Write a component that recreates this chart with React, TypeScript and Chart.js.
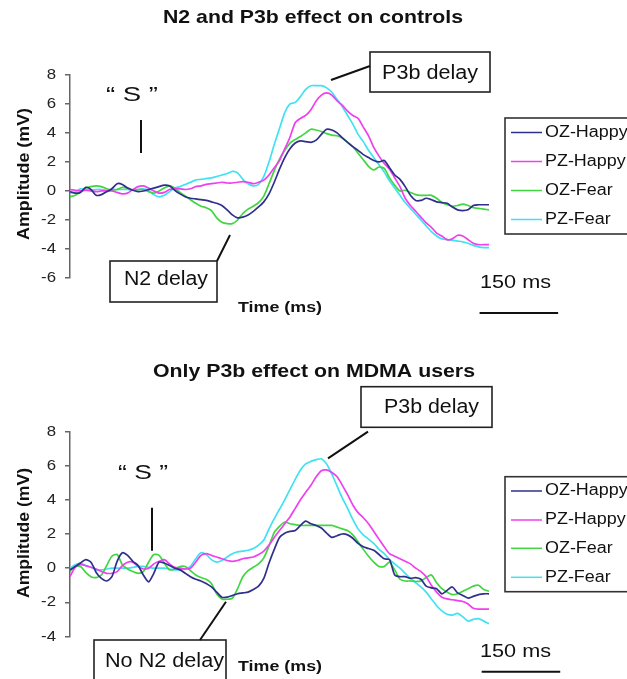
import React, { useEffect, useRef } from 'react';
import { Chart, registerables } from 'chart.js';

Chart.register(...registerables);

const FONT = '"Liberation Sans", Arial, Helvetica, sans-serif';

// ---------- data ----------
const TIMES_MS = [
  0, 10, 20, 30, 40, 50, 60, 70, 80, 90,
  100, 110, 120, 130, 140, 150, 160, 170, 180, 190,
  200, 210, 220, 230, 240, 250, 260, 270, 280, 290,
  300, 310, 320, 330, 340, 350, 360, 370, 380, 390,
  400, 410, 420, 430, 440, 450, 460, 470, 480, 490,
  500, 510, 520, 530, 540, 550, 560, 570, 580, 590,
  600, 610, 620, 630, 640, 650, 660, 670, 680, 690,
  700, 710, 720, 730, 740, 750, 760, 770, 780, 790,
  800,
];

const SERIES_LABELS = ['OZ-Happy', 'PZ-Happy', 'OZ-Fear', 'PZ-Fear'];
const SERIES_COLORS = ['#2f2f8c', '#ee40ee', '#40d640', '#40e2f2'];

// Controls
const CTRL_OZ_HAPPY = [
  -0.05, -0.15, -0.1, 0.25, 0.1, -0.3, -0.25, -0.05, 0.15, 0.5,
  0.45, 0.2, 0.05, -0.05, 0.0, 0.1, 0.2, 0.3, 0.4, 0.35,
  0.05, -0.2, -0.4, -0.5, -0.55, -0.6, -0.65, -0.75, -0.85, -1.0,
  -1.3, -1.65, -1.85, -1.8, -1.65, -1.4, -1.1, -0.75, -0.2, 0.6,
  1.5, 2.3, 2.9, 3.3, 3.45, 3.4, 3.35, 3.5, 3.9, 4.25,
  4.2, 4.0, 3.65, 3.35, 3.05, 2.8, 2.5, 2.3, 2.1, 2.0,
  2.1, 1.6, 1.1, 0.8, 0.3, -0.3, -0.65, -0.65, -0.5, -0.6,
  -0.75, -0.8, -0.85, -1.1, -1.3, -1.35, -1.3, -1.0, -0.95, -0.95,
  -0.95,
];
const CTRL_PZ_HAPPY = [
  0.1, 0.05, 0.0, 0.05, 0.0, -0.05, 0.0, 0.0, 0.0, -0.1,
  -0.2, -0.15, 0.1, 0.3, 0.35, 0.2, 0.0, -0.15, -0.1, 0.1,
  0.15, 0.15, 0.1, 0.15, 0.3, 0.35, 0.45, 0.5, 0.55, 0.6,
  0.55, 0.55, 0.6, 0.65, 0.6, 0.5, 0.6, 0.75, 1.1, 1.6,
  2.1, 2.9, 3.7, 4.7, 5.0, 5.2, 5.6, 6.2, 6.6, 6.75,
  6.6, 6.2, 5.9, 5.5, 5.2, 5.0, 4.4, 3.8, 3.0, 2.4,
  1.9, 1.5, 0.9, 0.3, -0.5, -1.0, -1.4, -1.8, -2.2, -2.5,
  -2.9, -3.1, -3.35, -3.3, -3.05, -3.1, -3.35, -3.6, -3.7, -3.7,
  -3.7,
];
const CTRL_OZ_FEAR = [
  -0.4, -0.3, -0.05, 0.2, 0.3, 0.35, 0.3, 0.15, 0.05, 0.1,
  0.25, 0.2, 0.05, 0.1, 0.1, -0.05, -0.15, 0.0, 0.2, 0.35,
  0.2, -0.1, -0.35, -0.6, -0.85, -1.05, -1.15, -1.35, -1.85, -2.15,
  -2.25, -2.25, -2.0, -1.55, -1.25, -1.05, -0.8, -0.35, 0.5, 1.4,
  2.2, 2.8, 3.3, 3.55, 3.75, 4.0, 4.25, 4.2, 4.1, 3.95,
  3.85, 3.8, 3.65, 3.35, 3.05, 2.6, 2.15, 1.7, 1.45, 1.65,
  1.55, 0.9, 0.4, 0.0, 0.05, -0.1, -0.25, -0.3, -0.3, -0.3,
  -0.5, -0.8, -0.95, -1.05, -1.0, -0.9, -1.0, -1.15, -1.2, -1.25,
  -1.3,
];
const CTRL_PZ_FEAR = [
  -0.15, -0.05, 0.15, 0.1, 0.05, 0.1, 0.1, 0.05, 0.1, 0.1,
  0.1, 0.1, 0.05, 0.1, 0.15, 0.05, -0.25, -0.4, -0.3, -0.05,
  0.2, 0.3, 0.45, 0.6, 0.75, 0.8, 0.85, 0.9, 1.0, 1.1,
  1.2, 1.35, 1.25, 0.8, 0.5, 0.35, 0.45, 1.0, 2.0, 3.2,
  4.3, 5.4, 6.0, 6.1, 6.5, 7.0, 7.25, 7.25, 7.25, 7.1,
  6.8, 6.3, 5.8, 5.2, 4.6, 3.9, 3.4, 2.8, 2.3, 1.8,
  1.3, 0.7, 0.2, -0.3, -0.8, -1.2, -1.6, -2.0, -2.4, -2.8,
  -3.1, -3.3, -3.35, -3.4, -3.45, -3.5, -3.6, -3.75, -3.85, -3.9,
  -3.9,
];

// MDMA users
const MDMA_OZ_HAPPY = [
  -0.1, 0.1, 0.3, 0.5, 0.35, -0.25, -0.6, -0.75, -0.5, 0.4,
  0.9, 0.75, 0.4, 0.15, -0.4, -0.8, -0.3, 0.35, 0.3, 0.15,
  0.0, -0.1, -0.3, -0.5, -0.65, -0.75, -0.9, -1.1, -1.4, -1.7,
  -1.7, -1.6, -1.5, -1.45, -1.4, -1.25, -1.05, -0.6, 0.3, 1.1,
  1.8, 2.05, 2.15, 2.2, 2.5, 2.75, 2.6, 2.5, 2.35, 2.05,
  1.8, 1.9, 2.0, 1.95, 1.75, 1.45, 1.25, 1.15, 1.05, 0.8,
  0.55, 0.5, -0.4, -0.5, -0.5, -0.6, -0.55, -0.65, -1.05, -1.15,
  -1.2, -1.5, -1.3, -1.1, -1.45, -1.6, -1.75, -1.65, -1.55, -1.5,
  -1.5,
];
const MDMA_PZ_HAPPY = [
  -0.5, 0.05, 0.2, 0.15, 0.05, -0.05, -0.2, -0.3, -0.3, -0.2,
  0.15, 0.35, 0.35, 0.1, -0.05, 0.0, 0.25, 0.4, 0.5, 0.25,
  0.05, 0.0, -0.05, 0.0, 0.35, 0.75, 0.85, 0.75, 0.65, 0.55,
  0.45, 0.4, 0.45, 0.55, 0.6, 0.65, 0.8, 1.0, 1.35, 1.8,
  2.2, 2.6, 3.0, 3.5, 4.0, 4.45, 4.85, 5.35, 5.7, 5.75,
  5.6, 5.35, 4.85, 4.3, 3.7, 3.25, 2.95, 2.6, 2.15, 1.7,
  1.25, 0.85, 0.7, 0.55, 0.4, 0.25, 0.0, -0.2, -0.5, -1.0,
  -1.4, -1.7, -1.8, -1.85, -1.9, -1.95, -2.1, -2.35, -2.4, -2.4,
  -2.4,
];
const MDMA_OZ_FEAR = [
  -0.2, 0.1, 0.1, -0.25, -0.5, -0.55, -0.4, 0.15, 0.7, 0.8,
  0.2, -0.05, -0.2, -0.3, -0.2, 0.35, 0.8, 0.75, 0.3, -0.1,
  -0.05, 0.1, 0.1, -0.15, -0.4, -0.55, -0.65, -0.9, -1.5, -1.8,
  -1.82, -1.75, -1.2, -0.5, -0.15, 0.05, 0.25, 0.6, 1.3, 2.1,
  2.45, 2.7, 2.6, 2.55, 2.5, 2.5, 2.5, 2.5, 2.5, 2.5,
  2.5, 2.4, 2.3, 2.2, 1.95, 1.55, 1.1, 0.7, 0.35, 0.1,
  0.1, 0.35, -0.1, -0.65, -0.75, -0.75, -0.78, -0.75, -0.55, -0.4,
  -0.85, -1.2, -1.4, -1.55, -1.5, -1.35, -1.2, -1.05, -1.0, -1.25,
  -1.35,
];
const MDMA_PZ_FEAR = [
  0.0, 0.2, 0.3, 0.15, 0.05, -0.1, -0.1, -0.05, 0.0, 0.0,
  0.0, 0.0, 0.05, 0.1, 0.1, 0.05, 0.0, 0.0, 0.0, -0.05,
  -0.1, -0.1, -0.05, 0.1, 0.55, 0.9, 0.8, 0.5, 0.35, 0.45,
  0.65, 0.85, 0.95, 1.0, 1.05, 1.15, 1.35, 1.65, 2.3, 2.9,
  3.45, 4.0, 4.6, 5.2, 5.75, 6.1, 6.25, 6.35, 6.4, 6.1,
  5.5, 4.8, 4.1, 3.5, 2.85, 2.3, 1.95, 1.7, 1.45, 1.1,
  0.85, 0.5, 0.25, 0.0, -0.3, -0.6, -0.85, -1.1, -1.4, -1.8,
  -2.2, -2.5, -2.7, -2.75, -2.65, -2.85, -3.1, -3.0, -2.95, -3.1,
  -3.25,
];

const CTRL_Y_TICKS = [-6, -4, -2, 0, 2, 4, 6, 8];
const MDMA_Y_TICKS = [-4, -2, 0, 2, 4, 6, 8];

const TITLE_CTRL = 'N2 and P3b effect on controls';
const TITLE_MDMA = 'Only P3b effect on MDMA users';
const Y_TITLE = 'Amplitude (mV)';
const X_TITLE = 'Time (ms)';
const STIM_LABEL = '\u201C S \u201D';
const P3B_LABEL = 'P3b delay';
const N2_CTRL_LABEL = 'N2 delay';
const N2_MDMA_LABEL = 'No N2 delay';
const SCALE_BAR_MS = 150;
const SCALE_BAR_LABEL = '150 ms';

// ---------- drawing helpers ----------
type Align = 'left' | 'center' | 'right';

function drawText(
  ctx: CanvasRenderingContext2D,
  text: string,
  x: number,
  y: number,
  size: number,
  o: { bold?: boolean; width?: number; sx?: number; align?: Align; base?: CanvasTextBaseline; color?: string; rotate?: number } = {}
) {
  ctx.save();
  ctx.font = `${o.bold ? 'bold ' : ''}${size}px ${FONT}`;
  const nat = ctx.measureText(text).width;
  const sx = o.width ? o.width / nat : o.sx ?? 1.18;
  ctx.translate(x, y);
  if (o.rotate) ctx.rotate(o.rotate);
  ctx.scale(sx, 1);
  ctx.textAlign = o.align ?? 'left';
  ctx.textBaseline = o.base ?? 'alphabetic';
  ctx.fillStyle = o.color ?? '#111';
  ctx.fillText(text, 0, 0);
  ctx.restore();
}

function line(ctx: CanvasRenderingContext2D, x1: number, y1: number, x2: number, y2: number, w = 2, color = '#111') {
  ctx.save();
  ctx.strokeStyle = color;
  ctx.lineWidth = w;
  ctx.beginPath();
  ctx.moveTo(x1, y1);
  ctx.lineTo(x2, y2);
  ctx.stroke();
  ctx.restore();
}

function rect(ctx: CanvasRenderingContext2D, x: number, y: number, w: number, h: number, lw = 1.6, color = '#222') {
  ctx.save();
  ctx.strokeStyle = color;
  ctx.lineWidth = lw;
  ctx.strokeRect(x, y, w, h);
  ctx.restore();
}

interface Panel {
  height: number;
  padTop: number;
  padBottom: number;
  yMin: number;
  yMax: number;
  yTicks: number[];
  series: number[][];
  title: string;
  titleX: number; titleW: number; titleY: number;
  yTitleY: number; yTitleW: number;
  stimX: number; stimW: number; stimY: number;
  stimLineX: number; stimLineY1: number; stimLineY2: number;
  p3bBox: number[]; p3bTextX: number; p3bTextW: number; p3bTextY: number; p3bLeader: number[];
  n2Label: string; n2Box: number[]; n2TextX: number; n2TextW: number; n2TextY: number; n2Leader: number[];
  timeX: number; timeW: number; timeY: number;
  legendBox: number[]; legendRows: number[];
  barTextX: number; barTextW: number; barTextY: number; barStart: number; barY: number;
}

const PANEL_CTRL: Panel = {
  height: 340, padTop: 74.8, padBottom: 61.9,
  yMin: -6, yMax: 8, yTicks: CTRL_Y_TICKS,
  series: [CTRL_OZ_HAPPY, CTRL_PZ_HAPPY, CTRL_OZ_FEAR, CTRL_PZ_FEAR],
  title: TITLE_CTRL, titleX: 163, titleW: 300, titleY: 23,
  yTitleY: 174, yTitleW: 132,
  stimX: 106, stimW: 52, stimY: 101,
  stimLineX: 141, stimLineY1: 120, stimLineY2: 153,
  p3bBox: [370, 52, 120, 40], p3bTextX: 382, p3bTextW: 96, p3bTextY: 79, p3bLeader: [331, 80, 370, 66],
  n2Label: N2_CTRL_LABEL, n2Box: [110, 261, 107, 41], n2TextX: 124, n2TextW: 84, n2TextY: 285, n2Leader: [217, 261, 230, 235],
  timeX: 238, timeW: 84, timeY: 312,
  legendBox: [505, 118, 140, 116], legendRows: [132.5, 161.5, 190.5, 219.5],
  barTextX: 480, barTextW: 71, barTextY: 288, barStart: 782, barY: 313,
};

const PANEL_MDMA: Panel = {
  height: 339, padTop: 91.5, padBottom: 42.5,
  yMin: -4, yMax: 8, yTicks: MDMA_Y_TICKS,
  series: [MDMA_OZ_HAPPY, MDMA_PZ_HAPPY, MDMA_OZ_FEAR, MDMA_PZ_FEAR],
  title: TITLE_MDMA, titleX: 153, titleW: 322, titleY: 37,
  yTitleY: 193, yTitleW: 130,
  stimX: 118, stimW: 50, stimY: 139,
  stimLineX: 152, stimLineY1: 167.7, stimLineY2: 210.7,
  p3bBox: [361, 46.7, 131, 40.6], p3bTextX: 384, p3bTextW: 95, p3bTextY: 73, p3bLeader: [328, 118.3, 368, 91.7],
  n2Label: N2_MDMA_LABEL, n2Box: [94, 300, 132, 60], n2TextX: 105, n2TextW: 119, n2TextY: 327, n2Leader: [200, 300, 226, 261.7],
  timeX: 238, timeW: 84, timeY: 331,
  legendBox: [505, 136.7, 140, 115], legendRows: [151, 180, 208.3, 237.3],
  barTextX: 480, barTextW: 71, barTextY: 317, barStart: 786, barY: 331.7,
};

function makeDecor(p: Panel) {
  return {
    id: 'decor',
    afterDraw(chart: any) {
      const ctx: CanvasRenderingContext2D = chart.ctx;
      const ys = chart.scales.y;
      const xs = chart.scales.x;

      // title
      drawText(ctx, p.title, p.titleX, p.titleY, 19, { bold: true, width: p.titleW });
      // y tick labels
      for (const v of p.yTicks) {
        drawText(ctx, String(v), 56, ys.getPixelForValue(v), 15, { sx: 1.12, align: 'right', base: 'middle', color: '#222' });
      }
      // y title
      drawText(ctx, Y_TITLE, 25, p.yTitleY, 16, { bold: true, width: p.yTitleW, align: 'center', base: 'middle', rotate: -Math.PI / 2 });
      // x title
      drawText(ctx, X_TITLE, p.timeX, p.timeY, 15, { bold: true, width: p.timeW });

      // stimulus marker
      drawText(ctx, STIM_LABEL, p.stimX, p.stimY, 20, { width: p.stimW });
      line(ctx, p.stimLineX, p.stimLineY1, p.stimLineX, p.stimLineY2, 2);

      // P3b annotation
      rect(ctx, p.p3bBox[0], p.p3bBox[1], p.p3bBox[2], p.p3bBox[3]);
      drawText(ctx, P3B_LABEL, p.p3bTextX, p.p3bTextY, 20, { width: p.p3bTextW });
      line(ctx, p.p3bLeader[0], p.p3bLeader[1], p.p3bLeader[2], p.p3bLeader[3], 2);

      // N2 annotation
      rect(ctx, p.n2Box[0], p.n2Box[1], p.n2Box[2], p.n2Box[3]);
      drawText(ctx, p.n2Label, p.n2TextX, p.n2TextY, 20, { width: p.n2TextW });
      line(ctx, p.n2Leader[0], p.n2Leader[1], p.n2Leader[2], p.n2Leader[3], 2);

      // legend
      rect(ctx, p.legendBox[0], p.legendBox[1], p.legendBox[2], p.legendBox[3], 1.6, '#333');
      chart.data.datasets.forEach((ds: any, i: number) => {
        const y = p.legendRows[i];
        line(ctx, 511, y, 542, y, 1.5, ds.borderColor);
        drawText(ctx, ds.label, 545, y, 16, { sx: 1.12, base: 'middle', color: '#111' });
      });

      // scale bar
      drawText(ctx, SCALE_BAR_LABEL, p.barTextX, p.barTextY, 18, { width: p.barTextW });
      line(ctx, xs.getPixelForValue(p.barStart), p.barY, xs.getPixelForValue(p.barStart + SCALE_BAR_MS), p.barY, 2);
    },
  };
}

function PanelChart({ panel, top }: { panel: Panel; top: number }) {
  const ref = useRef<HTMLCanvasElement | null>(null);
  useEffect(() => {
    if (!ref.current) return;
    const chart = new Chart(ref.current, {
      type: 'line',
      data: {
        datasets: panel.series.map((vals, i) => ({
          label: SERIES_LABELS[i],
          data: vals.map((v, j) => ({ x: TIMES_MS[j], y: v })),
          borderColor: SERIES_COLORS[i],
          backgroundColor: SERIES_COLORS[i],
          borderWidth: 1.7,
          pointRadius: 0,
          tension: 0.25,
          fill: false,
        })),
      },
      options: {
        animation: false,
        responsive: false,
        devicePixelRatio: 1,
        events: [],
        layout: { padding: { left: 0, right: 138, top: panel.padTop, bottom: panel.padBottom } },
        plugins: {
          legend: { display: false },
          tooltip: { enabled: false },
          title: { display: false },
        },
        scales: {
          x: { type: 'linear', min: 0, max: 800, display: false },
          y: {
            min: panel.yMin,
            max: panel.yMax,
            ticks: { stepSize: 2, display: false },
            grid: { drawOnChartArea: false, drawTicks: true, tickLength: 5, color: '#666', lineWidth: 1.5 },
            border: { display: true, color: '#666', width: 1.5 },
            afterFit: (s: any) => { s.width = 70; },
          },
        },
      },
      plugins: [makeDecor(panel)],
    } as any);
    return () => chart.destroy();
  }, [panel]);
  return (
    <canvas
      ref={ref}
      width={627}
      height={panel.height}
      style={{ position: 'absolute', left: 0, top, width: '627px', height: `${panel.height}px` }}
    />
  );
}

export default function App() {
  return (
    <div style={{ position: 'absolute', left: 0, top: 0, width: 627, height: 679, background: '#fff', overflow: 'hidden' }}>
      <PanelChart panel={PANEL_CTRL} top={0} />
      <PanelChart panel={PANEL_MDMA} top={340} />
    </div>
  );
}
